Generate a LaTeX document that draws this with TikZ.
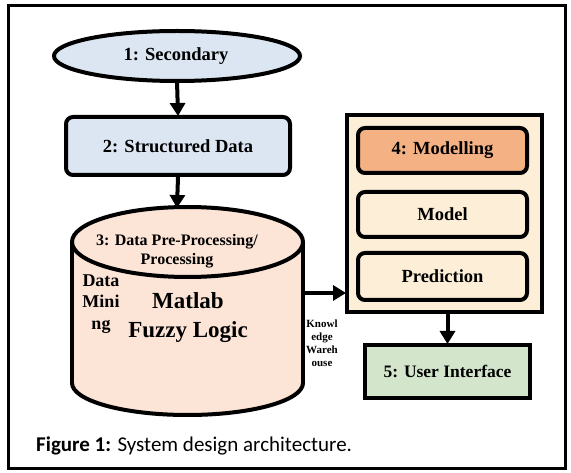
\documentclass[tikz,border=0pt]{standalone}
\usepackage{fontspec}
\setmainfont{Liberation Serif}
\newfontfamily\capfont{Carlito}
\usetikzlibrary{arrows.meta}
\definecolor{lblue}{HTML}{DCE6F2}
\definecolor{peach}{HTML}{FCE4D6}
\definecolor{cream}{HTML}{FDEFD7}
\definecolor{orng}{HTML}{F4B183}
\definecolor{lgreen}{HTML}{D3E6CC}
\tikzset{
  boxtxt/.style={font=\bfseries\fontsize{18.5}{22}\selectfont, text=black},
  rbox/.style={draw=black, line width=4pt, rounded corners=7pt, boxtxt, inner sep=0pt},
  sbox/.style={draw=black, line width=4pt, boxtxt, inner sep=0pt},
  conn/.style={draw=black, line width=4pt, -{Triangle[length=13pt,width=15pt]}, shorten >=-1pt},
}
\begin{document}
\begin{tikzpicture}[x=1pt,y=-1pt]
\useasboundingbox (0,0) rectangle (571,473);
\draw[line width=3pt] (8,6) rectangle (565,468);
% 1 ellipse
\draw[line width=4pt, fill=lblue] (177,56) ellipse [x radius=123, y radius=25];
\node[boxtxt] (sec) at (176,56) {1: Secondary};
\coordinate (secB) at (177,81);
% 2
\node[rbox, fill=lblue, minimum width=224pt, minimum height=58pt] (str) at (178,146) {2: Structured Data};
% 3 cylinder
\fill[peach] (72,242) rectangle (303,383);
\draw[line width=4pt, fill=peach] (187.5,383) ellipse [x radius=115.5, y radius=32];
\fill[peach] (72,242) rectangle (303,383);
\draw[line width=4pt] (72,242) -- (72,383);
\draw[line width=4pt] (303,242) -- (303,383);
\draw[line width=4pt, fill=peach] (187.5,242) ellipse [x radius=115.5, y radius=35];
\coordinate (cylT) at (177,207);
\coordinate (cylR) at (303,293);
\node[font=\bfseries\fontsize{16}{18.5}\selectfont, align=center] (cyltxt) at (177,251) {3: Data Pre-Processing/\\Processing};
\node[font=\bfseries\fontsize{18}{21.5}\selectfont, align=center] (dm) at (101,304) {Data\\Mini\\ng};
\node[font=\bfseries\fontsize{23}{29}\selectfont, align=center] (mf) at (188,318) {Matlab\\Fuzzy Logic};
\node[font=\bfseries\fontsize{11}{13}\selectfont, align=center] (kw) at (322,343) {Knowl\\edge\\Wareh\\ouse};
% container
\node[draw=black, line width=4pt, fill=cream, minimum width=195pt, minimum height=197pt, inner sep=0pt] (cont) at (444.5,213.5) {};
\node[rbox, fill=orng, minimum width=169pt, minimum height=45pt] (mod4) at (442.5,150.5) {4: Modelling};
\node[rbox, fill=cream, minimum width=169pt, minimum height=45pt] (model) at (442.5,214.5) {Model};
\node[rbox, fill=cream, minimum width=169pt, minimum height=47pt] (pred) at (442.5,276.5) {Prediction};
% 5
\node[sbox, fill=lgreen, minimum width=165pt, minimum height=53pt, font=\bfseries\fontsize{17.5}{21}\selectfont] (ui) at (447.5,371.5) {5: User Interface};
% connectors
\draw[conn] (secB) -- (str.north);
\draw[conn] (str.south) -- (cylT);
\draw[conn] (cylR) -- (cylR -| cont.west);
\draw[conn] (cont.south -| ui.north) -- (ui.north);
% caption
\node[anchor=base west, inner sep=0pt, font=\capfont\fontsize{21}{24}\selectfont] (cap) at (36,451) {\textbf{Figure 1:} System design architecture.};
\end{tikzpicture}
\end{document}
